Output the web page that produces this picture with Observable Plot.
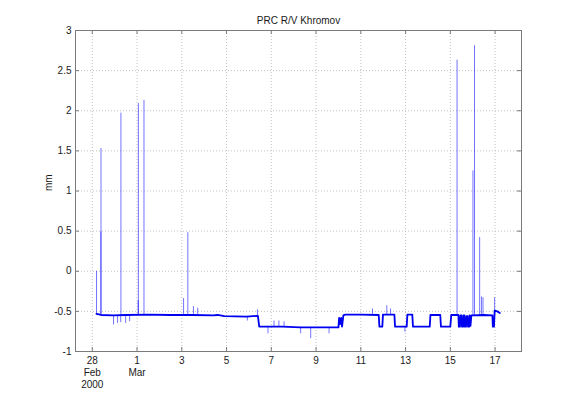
<!DOCTYPE html>
<html><head><meta charset="utf-8">
<script src="https://cdn.jsdelivr.net/npm/d3@7"></script>
<script src="https://cdn.jsdelivr.net/npm/@observablehq/plot@0.6"></script>
<style>html,body{margin:0;padding:0;background:#fff;} svg{display:block}</style>
</head><body><div id="chart"></div>
<script>
// ---- text ----
const title = "PRC R/V Khromov";
const yLabel = "mm";
// ---- ticks (x in days since 28 Feb 2000 00:00 UTC) ----
const xTickDays = [0, 2, 4, 6, 8, 10, 12, 14, 16, 18];
const xTickLabels = ["28\nFeb\n2000", "1\nMar", "3", "5", "7", "9", "11", "13", "15", "17"];
const yTicks = [-1, -0.5, 0, 0.5, 1, 1.5, 2, 2.5, 3];
const yTickLabels = ["-1", "-0.5", "0", "0.5", "1", "1.5", "2", "2.5", "3"];

// ---- main trace (day, mm) ----
const traceDay = [0.19, 0.40, 0.95, 1.50, 2.50, 3.50, 4.50, 5.40, 5.60, 5.90, 6.90, 7.40, 7.46, 8.50, 9.30, 10.20, 11.00,
  11.03, 11.07, 11.12, 11.16, 11.22, 11.30, 12.00, 12.80, 12.83, 12.96, 12.99, 13.50, 13.53, 14.05, 14.08, 14.30, 14.33,
  15.08, 15.11, 15.55, 15.58, 16.00, 16.04, 16.36, 16.38, 16.43, 16.45, 16.50, 16.52, 16.57, 16.59, 16.63, 16.65, 16.70,
  16.72, 16.77, 16.79, 16.84, 16.86, 16.90, 16.94, 17.50, 17.88, 17.90, 17.95, 17.98, 18.10, 18.21];
const traceMm = [-0.53, -0.545, -0.55, -0.545, -0.54, -0.545, -0.545, -0.55, -0.545, -0.56, -0.565, -0.555, -0.69, -0.69, -0.70, -0.70, -0.70,
  -0.58, -0.66, -0.58, -0.69, -0.55, -0.54, -0.54, -0.545, -0.69, -0.69, -0.54, -0.54, -0.69, -0.69, -0.54, -0.54, -0.69,
  -0.69, -0.545, -0.545, -0.69, -0.69, -0.545, -0.545, -0.69, -0.69, -0.55, -0.55, -0.69, -0.69, -0.55, -0.55, -0.69, -0.69,
  -0.56, -0.56, -0.69, -0.69, -0.55, -0.68, -0.55, -0.545, -0.55, -0.69, -0.69, -0.49, -0.50, -0.52];

// ---- spikes / dips (day, from mm, to mm) ----
const spikeDay = [0.19, 0.385, 0.39, 1.28, 2.05, 2.06, 2.31, 4.08, 4.27, 4.52, 4.71, 7.38,
  0.95, 1.13, 1.27, 1.49, 1.67, 6.93, 7.85, 8.12, 8.34, 8.57, 9.31, 9.76, 10.58,
  12.52, 13.16, 13.33, 13.97, 16.30, 17.01, 17.08, 17.31, 17.39, 17.46, 17.98];
const spikeFrom = [-0.54, -0.54, -0.54, -0.55, -0.54, -0.54, -0.54, -0.54, -0.54, -0.54, -0.54, -0.56,
  -0.67, -0.65, -0.64, -0.65, -0.63, -0.62, -0.78, -0.69, -0.69, -0.69, -0.78, -0.84, -0.78,
  -0.54, -0.54, -0.54, -0.76, -0.55, -0.55, -0.55, -0.55, -0.55, -0.55, -0.55];
const spikeTo = [0.00, 0.49, 1.53, 1.97, -0.37, 2.09, 2.13, -0.34, 0.48, -0.44, -0.46, -0.48,
  -0.55, -0.55, -0.55, -0.55, -0.55, -0.56, -0.69, -0.62, -0.62, -0.63, -0.70, -0.70, -0.70,
  -0.47, -0.43, -0.47, -0.69, 2.63, 1.25, 2.81, 0.42, -0.32, -0.33, -0.33];

const trace = traceDay.map((d, i) => ({day: d, mm: traceMm[i]}));
const spikes = spikeDay.map((d, i) => ({day: d, lo: spikeFrom[i], hi: spikeTo[i]}));

const W = 576, H = 395, ML = 75, MR = 55, MT = 30, MB = 44;
const PW = W - ML - MR, PH = H - MT - MB, TL = 4;
const axisColor = "#7a7a7a";
const gridStyle = {stroke: "#c2c2c2", strokeDasharray: "1,2", strokeWidth: 1};

const chart = Plot.plot({
  width: W, height: H,
  marginLeft: ML, marginRight: MR, marginTop: MT, marginBottom: MB,
  style: {fontFamily: "'Liberation Sans', Arial, Helvetica, sans-serif", fontSize: "10px", color: "#1a1a1a", background: "#fff"},
  x: {type: "linear", domain: [-0.75, 19.18]},
  y: {domain: [-1, 3]},
  marks: [
    Plot.ruleX(xTickDays, {x: d => d, ...gridStyle}),
    Plot.ruleY(yTicks, {y: d => d, ...gridStyle}),
    Plot.ruleX(spikes, {x: "day", y1: "lo", y2: "hi", stroke: "#0000ff", strokeOpacity: 0.55, strokeWidth: 1}),
    Plot.line(trace, {x: "day", y: "mm", stroke: "#0000f0", strokeWidth: 1.8}),
    Plot.frame({stroke: axisColor}),
    Plot.ruleX(xTickDays, {x: d => d, insetTop: PH - TL, stroke: axisColor}),
    Plot.ruleX(xTickDays, {x: d => d, insetBottom: PH - TL, stroke: axisColor}),
    Plot.ruleY(yTicks, {y: d => d, insetRight: PW - TL, stroke: axisColor}),
    Plot.ruleY(yTicks, {y: d => d, insetLeft: PW - TL, stroke: axisColor}),
    Plot.axisX({ticks: xTickDays, tickSize: 0, tickPadding: 4, label: null, lineHeight: 1.2,
      tickFormat: d => xTickLabels[xTickDays.indexOf(d)]}),
    Plot.axisY({ticks: yTicks, tickSize: 0, tickPadding: 4, label: null,
      tickFormat: d => yTickLabels[yTicks.indexOf(d)]}),
    Plot.text([title], {frameAnchor: "top", dy: -14, fontSize: 10, fill: "#1a1a1a"}),
    Plot.text([yLabel], {frameAnchor: "left", dx: -27, rotate: -90, fontSize: 10, fill: "#1a1a1a"})
  ]
});
document.getElementById("chart").appendChild(chart);
</script>
</body></html>
